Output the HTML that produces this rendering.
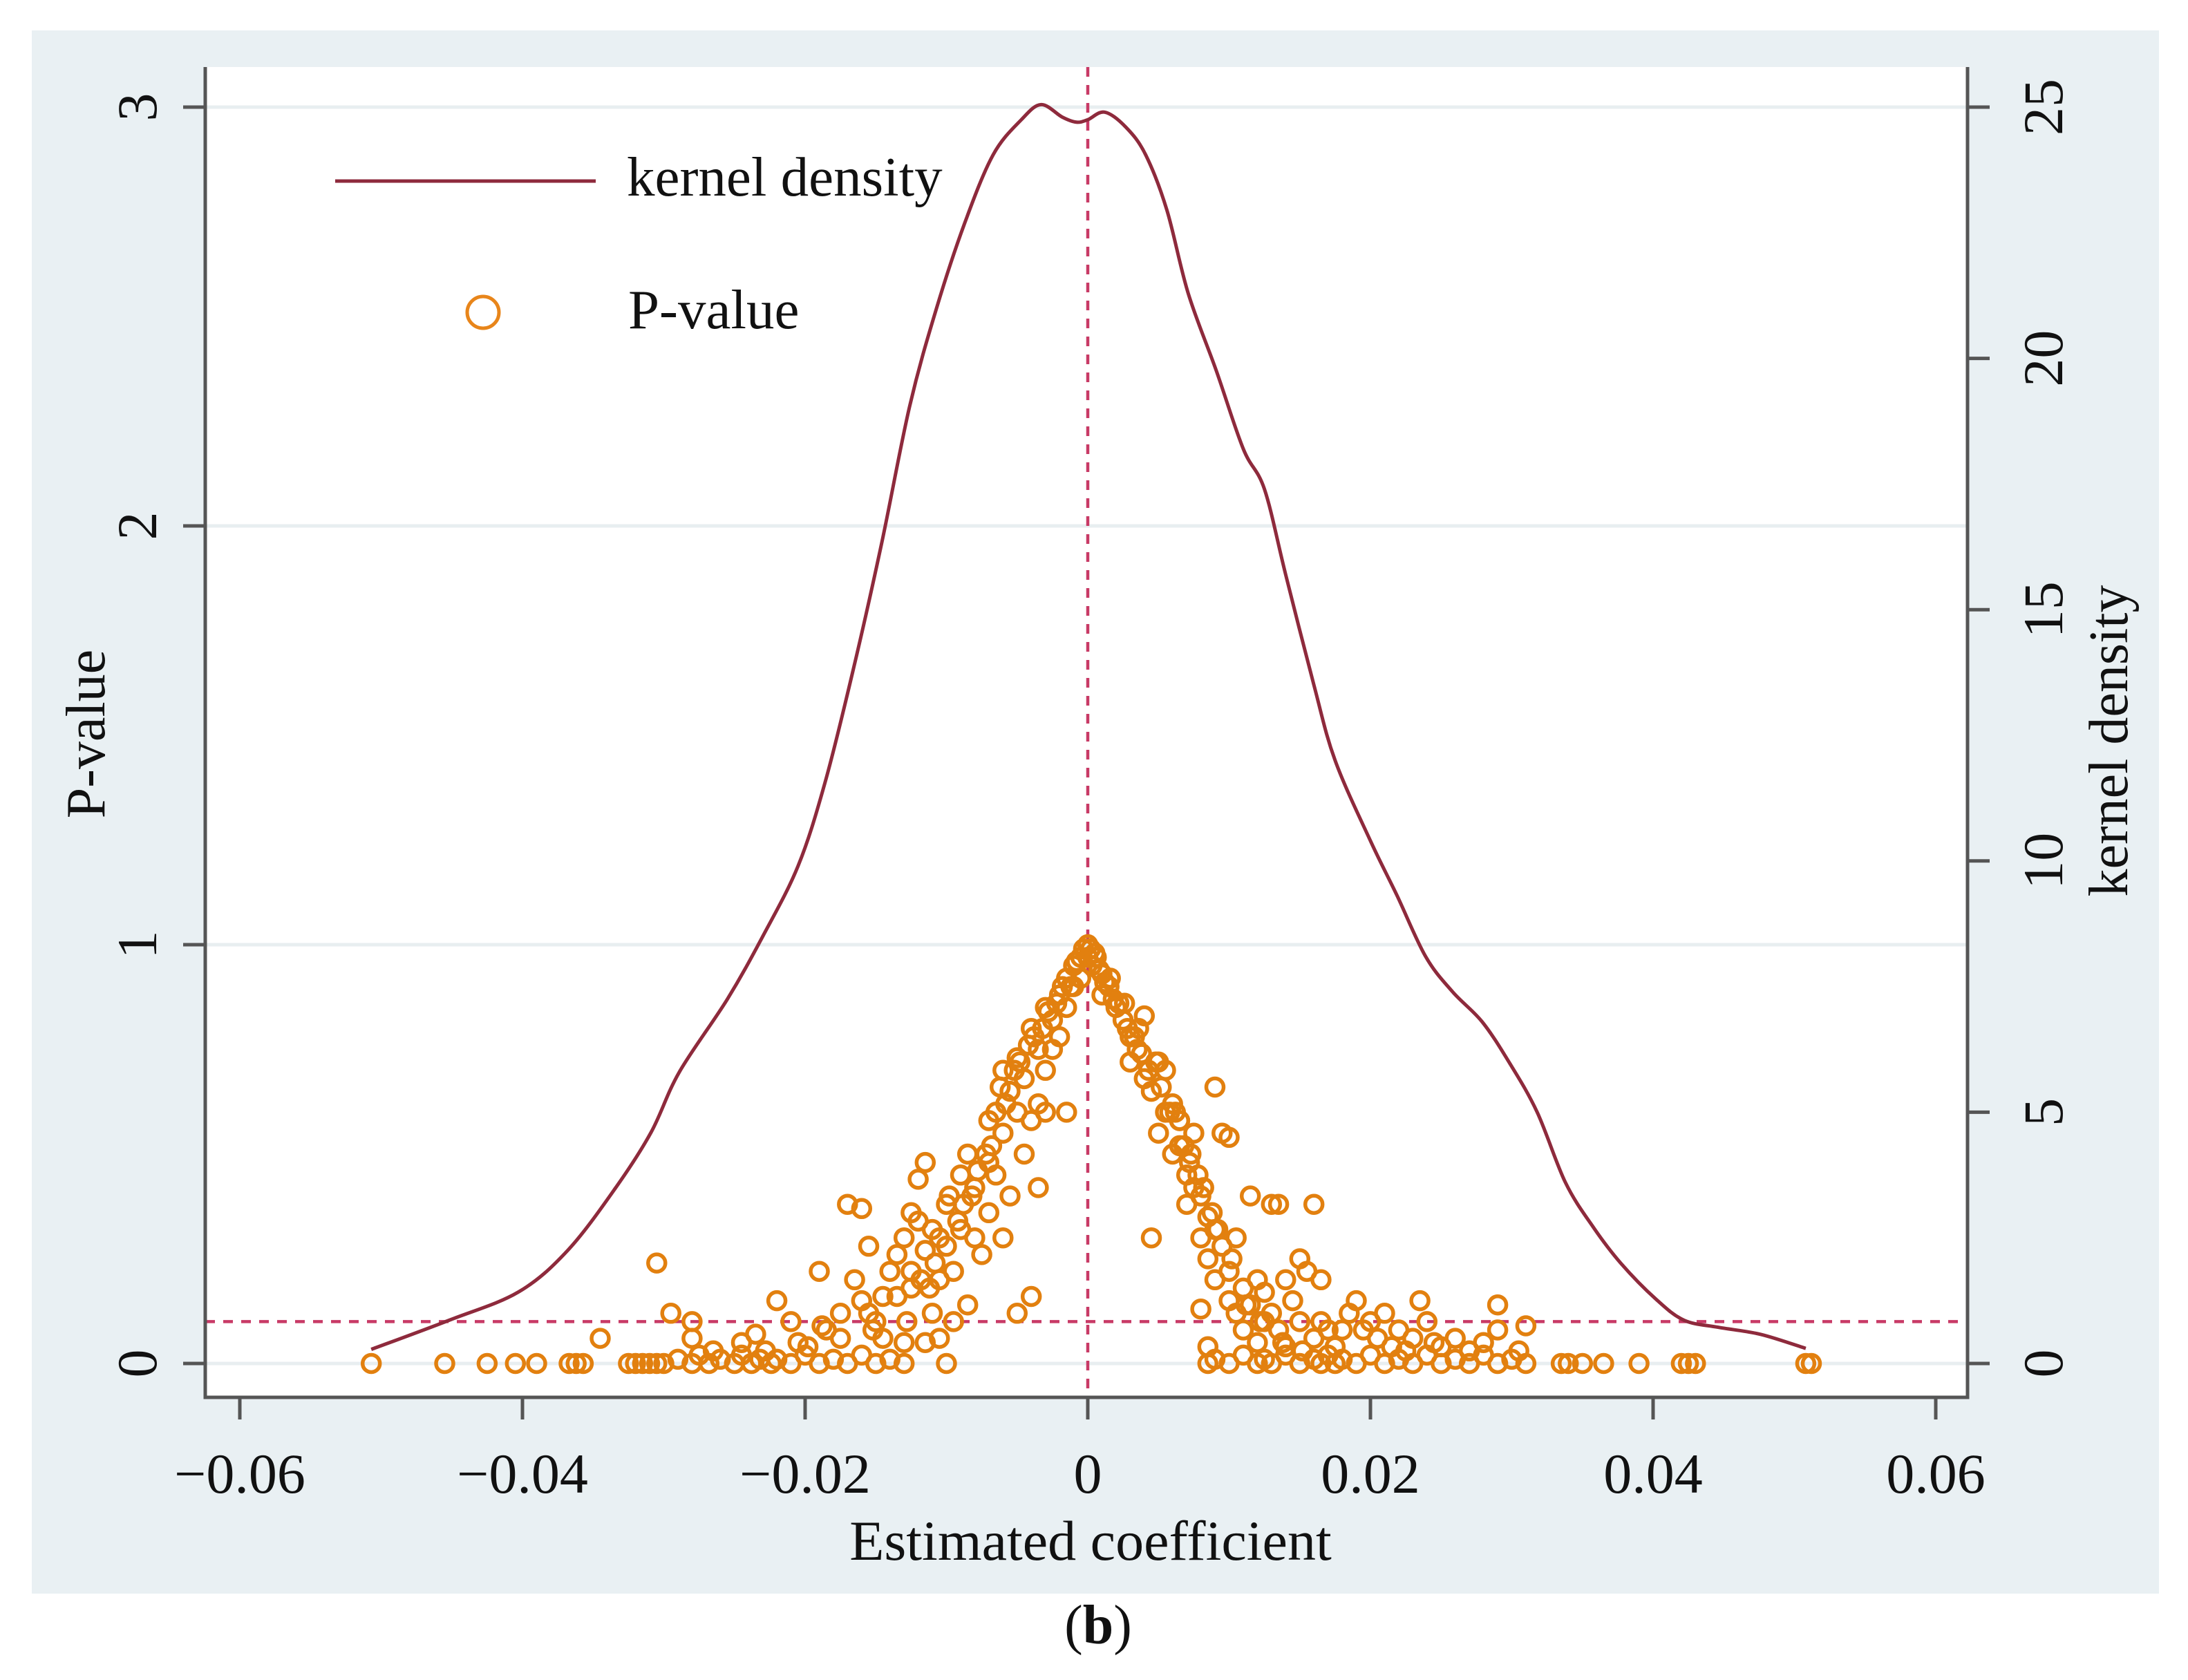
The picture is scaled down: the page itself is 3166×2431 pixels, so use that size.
<!DOCTYPE html>
<html><head><meta charset="utf-8"><style>
html,body{margin:0;padding:0;background:#fff}
svg{display:block}
text{font-family:"Liberation Serif",serif;fill:#111}
</style></head><body>
<svg id="chart" width="3166" height="2431" viewBox="0 0 3166 2431" xmlns="http://www.w3.org/2000/svg">
<rect x="46" y="44" width="3078" height="2262" fill="#e9f0f3"/>
<rect x="297" y="97" width="2550" height="1925" fill="#ffffff"/>
<g id="grid"></g><g id="refs"></g><g id="curve"></g><g id="pts"></g><g id="axes"></g>
<g>
<line x1="485" y1="262" x2="862" y2="262" stroke="#8e2a3c" stroke-width="5"/>
<text x="907" y="283" font-size="81">kernel density</text>
<circle cx="699" cy="452" r="23" fill="none" stroke="#e8851a" stroke-width="5"/>
<text x="909" y="475" font-size="81">P-value</text>
</g>
<text x="1578" y="2257" font-size="82" text-anchor="middle">Estimated coefficient</text>
<text x="151" y="1062" font-size="80" text-anchor="middle" transform="rotate(-90 151 1062)">P-value</text>
<text x="3078" y="1072" font-size="80" text-anchor="middle" transform="rotate(-90 3078 1072)">kernel density</text>
<text x="1589" y="2378" font-size="80" text-anchor="middle">(<tspan font-weight="bold">b</tspan>)</text>
</svg>
<script>
const xTicks=[-0.06,-0.04,-0.02,0,0.02,0.04,0.06];
const xTickLabels=["\u22120.06","\u22120.04","\u22120.02","0","0.02","0.04","0.06"];
const pTicks=[0,1,2,3];
const dTicks=[0,5,10,15,20,25];
const pThreshold=0.1;
const densX=[-0.0507,-0.0452,-0.0403,-0.0368,-0.0334,-0.0309,-0.0289,-0.0255,-0.023,-0.0205,-0.0186,-0.0166,-0.0146,-0.0126,-0.0107,-0.0087,-0.0067,-0.0047,-0.0033,-0.0018,-0.0008,0,0.0012,0.0027,0.0041,0.0056,0.0071,0.0091,0.011,0.0125,0.014,0.016,0.0175,0.02,0.0219,0.0239,0.0258,0.0279,0.0298,0.0318,0.0338,0.0358,0.0377,0.0402,0.0422,0.0446,0.0476,0.0508];
const densY=[0.28,0.86,1.42,2.25,3.5,4.6,5.8,7.25,8.5,9.9,11.55,13.8,16.3,19.05,21.0,22.7,24.05,24.75,25.05,24.8,24.7,24.75,24.9,24.6,24.05,22.95,21.3,19.75,18.2,17.4,15.7,13.5,12.0,10.4,9.3,8.1,7.4,6.8,6.0,5.0,3.6,2.7,2.0,1.28,0.86,0.72,0.58,0.3];
const pvX=[-0.0507,-0.0455,-0.0425,-0.0405,-0.039,-0.0367,-0.0362,-0.0357,-0.0325,-0.032,-0.0315,-0.031,-0.0305,-0.03,-0.029,-0.028,-0.0275,-0.0268,-0.026,-0.025,-0.0245,-0.0238,-0.0232,-0.0228,-0.0224,-0.022,-0.021,-0.02,-0.019,-0.018,-0.017,-0.016,-0.015,-0.014,-0.013,-0.01,
-0.0345,-0.0305,-0.0295,-0.028,-0.028,-0.0265,-0.0245,-0.0235,-0.022,-0.021,-0.0205,-0.019,-0.0185,-0.0175,-0.017,-0.016,-0.0165,-0.016,-0.0155,-0.015,-0.0145,-0.014,-0.0135,-0.013,-0.0125,-0.0125,-0.012,-0.0115,-0.0115,-0.011,-0.011,-0.0105,-0.01,-0.01,-0.0095,-0.009,-0.009,-0.0085,-0.0085,-0.008,-0.008,-0.0075,-0.007,-0.007,-0.0065,-0.0065,-0.006,-0.006,-0.006,-0.0055,-0.0055,-0.005,-0.005,-0.005,-0.0045,-0.0045,-0.004,-0.004,-0.004,-0.0035,-0.0035,-0.003,-0.003,-0.003,-0.0025,-0.0025,-0.002,-0.002,-0.0015,-0.0015,-0.001,-0.001,-0.0005,-0.0005,0,0,-0.0015,-0.007,-0.0115,-0.013,-0.0095,-0.0105,-0.0035,
-0.0135,-0.0125,-0.012,-0.0108,-0.0098,-0.0092,-0.0088,-0.0078,-0.0068,-0.0062,-0.0052,-0.0042,-0.0032,-0.0022,-0.0012,-0.0008,-0.0003,0.0002,0.0003,0.0008,0.0012,0.0018,0.0022,0.0028,0.0033,0.0038,0.0043,0.0052,0.0058,0.0068,0.0072,0.0078,0.0088,-0.0175,-0.0155,-0.0145,-0.0118,
-0.0105,-0.0082,-0.0072,-0.0058,-0.0048,-0.0038,-0.0028,-0.0018,-0.0008,0.0006,0.0016,0.0026,0.0036,0.0048,0.0062,0.0073,0.0082,0.0092,0.0102,0.0112,0.0122,0.0138,0.0152,-0.0152,-0.0128,-0.0112,-0.0198,-0.0188,
0.0005,0.001,0.001,0.0015,0.002,0.0025,0.003,0.003,0.0035,0.004,0.004,0.0045,0.005,0.005,0.0055,0.0055,0.006,0.006,0.0065,0.0065,0.007,0.007,0.0075,0.0075,0.008,0.008,0.0085,0.0085,0.009,0.009,0.009,0.0095,0.0095,0.01,0.01,0.01,0.0105,0.0105,0.011,0.011,0.0115,0.0115,0.012,0.012,0.0125,0.0125,0.013,0.013,0.0135,0.0135,0.014,0.014,0.0145,0.015,0.015,0.0155,0.016,0.016,0.0165,0.0165,0.017,0.0175,0.018,0.0185,0.019,0.0195,0.02,0.0205,0.021,0.0215,0.022,0.0225,0.023,0.0235,0.024,0.0245,0.025,0.026,0.027,0.028,0.029,0.029,0.0305,0.031,0.0045,0.0065,0.008,0.0085,
0.0085,0.009,0.01,0.011,0.012,0.0125,0.013,0.014,0.015,0.016,0.0165,0.017,0.0175,0.018,0.019,0.02,0.021,0.022,0.023,0.024,0.025,0.026,0.027,0.028,0.029,0.03,0.031,0.0335,0.034,0.035,0.0365,0.039,0.042,0.0425,0.043,0.0508,0.0512];
const pvY=[0,0,0,0,0,0,0,0,0,0,0,0,0,0,0.01,0,0.02,0,0.01,0,0.02,0,0.01,0.03,0,0.01,0,0.02,0,0.01,0,0.02,0,0.01,0,0,
0.06,0.24,0.12,0.1,0.06,0.03,0.05,0.07,0.15,0.1,0.05,0.22,0.08,0.12,0.38,0.37,0.2,0.15,0.28,0.1,0.06,0.22,0.16,0.3,0.22,0.36,0.44,0.48,0.27,0.12,0.32,0.2,0.38,0.28,0.22,0.45,0.32,0.14,0.5,0.42,0.3,0.26,0.48,0.36,0.6,0.45,0.7,0.55,0.3,0.65,0.4,0.73,0.6,0.12,0.68,0.5,0.8,0.58,0.16,0.75,0.62,0.85,0.7,0.6,0.82,0.75,0.88,0.78,0.92,0.85,0.95,0.9,0.97,0.92,1.0,0.97,0.6,0.58,0.05,0.05,0.1,0.06,0.42,
0.26,0.18,0.34,0.24,0.4,0.34,0.38,0.46,0.52,0.66,0.7,0.76,0.8,0.86,0.9,0.96,0.99,0.99,0.95,0.94,0.91,0.87,0.86,0.8,0.78,0.74,0.7,0.66,0.6,0.52,0.48,0.45,0.36,0.06,0.12,0.16,0.2,
0.3,0.4,0.5,0.62,0.72,0.78,0.84,0.9,0.96,0.97,0.92,0.86,0.8,0.72,0.6,0.5,0.42,0.32,0.25,0.14,0.1,0.05,0.03,0.08,0.1,0.18,0.04,0.09,
0.98,0.93,0.88,0.9,0.85,0.82,0.78,0.72,0.75,0.83,0.68,0.65,0.72,0.55,0.7,0.6,0.62,0.5,0.58,0.52,0.45,0.38,0.55,0.42,0.4,0.3,0.35,0.25,0.66,0.32,0.2,0.55,0.28,0.54,0.22,0.15,0.3,0.12,0.18,0.08,0.4,0.14,0.2,0.05,0.17,0.1,0.38,0.12,0.38,0.08,0.2,0.04,0.15,0.25,0.1,0.22,0.38,0.06,0.2,0.1,0.08,0.04,0.08,0.12,0.15,0.08,0.1,0.06,0.12,0.04,0.08,0.03,0.06,0.15,0.1,0.05,0.04,0.06,0.03,0.05,0.14,0.08,0.03,0.09,0.3,0.58,0.13,0.04,
0,0.01,0,0.02,0,0.01,0,0.02,0,0.01,0,0.02,0,0.01,0,0.02,0,0.01,0,0.02,0,0.01,0,0.02,0,0.01,0,0,0,0,0,0,0,0,0,0,0];
const NS='http://www.w3.org/2000/svg';
const L=297,R=2847,T=97,B=2022;
function xs(v){return 1574+v*20450;}
function ps(v){return 1973-v*606;}
function ds(v){return 1973-v*(1818/25);}
function mk(tag,attrs,parent){const e=document.createElementNS(NS,tag);for(const k in attrs)e.setAttribute(k,attrs[k]);parent.appendChild(e);return e;}
const grid=document.getElementById('grid'),refs=document.getElementById('refs'),curve=document.getElementById('curve'),pts=document.getElementById('pts'),axes=document.getElementById('axes');
pTicks.forEach(v=>{
 const g=mk('line',{x1:L,x2:R,y1:ps(v),y2:ps(v),stroke:'#e8eef0','stroke-width':5},grid);
 
 
});
const vl=mk('line',{x1:xs(0),x2:xs(0),y1:T,y2:B,stroke:'#c83a66','stroke-width':4.5,'stroke-dasharray':'14 12'},refs);


const hl=mk('line',{x1:L,x2:R,y1:ps(pThreshold),y2:ps(pThreshold),stroke:'#c83a66','stroke-width':4.5,'stroke-dasharray':'14 12'},refs);


const P=densX.map((x,i)=>[xs(x),ds(densY[i])]);
let d='M'+P[0][0].toFixed(1)+' '+P[0][1].toFixed(1);
for(let i=0;i<P.length-1;i++){
 const p0=P[Math.max(0,i-1)],p1=P[i],p2=P[i+1],p3=P[Math.min(P.length-1,i+2)];
 const c1=[p1[0]+(p2[0]-p0[0])/6,p1[1]+(p2[1]-p0[1])/6];
 const c2=[p2[0]-(p3[0]-p1[0])/6,p2[1]-(p3[1]-p1[1])/6];
 d+='C'+c1[0].toFixed(1)+' '+c1[1].toFixed(1)+' '+c2[0].toFixed(1)+' '+c2[1].toFixed(1)+' '+p2[0].toFixed(1)+' '+p2[1].toFixed(1);
}
const cp=mk('path',{d:d,fill:'none',stroke:'#8e2a3c','stroke-width':5,'stroke-linejoin':'round'},curve);


pvX.forEach((x,i)=>{
 const c=mk('circle',{cx:xs(x).toFixed(1),cy:ps(pvY[i]).toFixed(1),r:12.5,fill:'none',stroke:'#e2800f','stroke-width':5.5},pts);
 
 
});
const ax=mk('path',{d:'M'+L+' '+T+'L'+L+' '+B+'L'+R+' '+B+'L'+R+' '+T,fill:'none',stroke:'#555','stroke-width':5},axes);


xTicks.forEach((v,i)=>{
 const t=mk('line',{x1:xs(v),x2:xs(v),y1:B,y2:B+32,stroke:'#555','stroke-width':5},axes);
 
 
 const tx=mk('text',{x:xs(v),y:2160,'font-size':82,'text-anchor':'middle'},axes);
 tx.textContent=xTickLabels[i];
 
 
});
pTicks.forEach(v=>{
 const y=ps(v);
 const t=mk('line',{x1:L-32,x2:L,y1:y,y2:y,stroke:'#555','stroke-width':5},axes);
 
 
 const tx=mk('text',{x:226,y:y,'font-size':82,'text-anchor':'middle',transform:'rotate(-90 226 '+y+')'},axes);
 tx.textContent=String(v);
 
 
});
dTicks.forEach(v=>{
 const y=ds(v);
 const t=mk('line',{x1:R,x2:R+32,y1:y,y2:y,stroke:'#555','stroke-width':5},axes);
 
 
 const tx=mk('text',{x:2984,y:y,'font-size':82,'text-anchor':'middle',transform:'rotate(-90 2984 '+y+')'},axes);
 tx.textContent=String(v);
 
 
});
</script>
</body></html>
